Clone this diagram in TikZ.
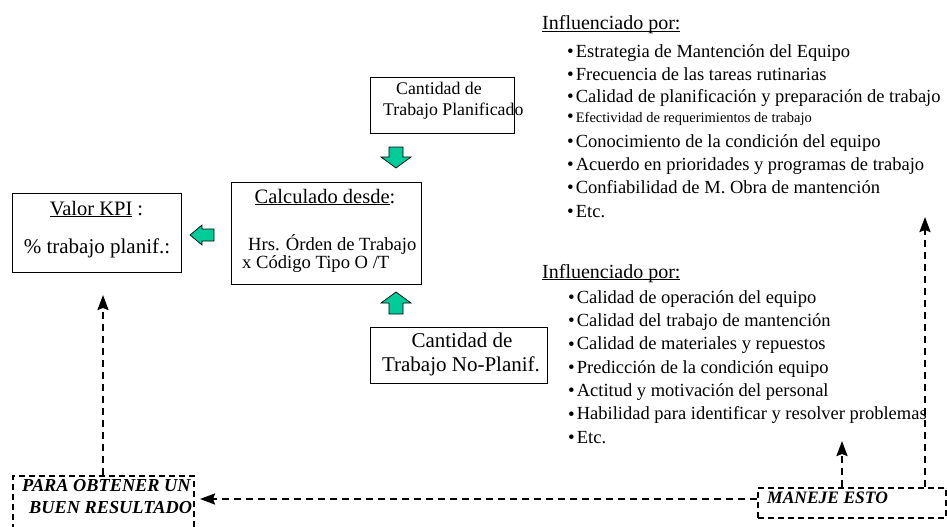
\documentclass[tikz,border=0pt]{standalone}
\usepackage{fontspec}
\setmainfont{Liberation Serif}
\usetikzlibrary{arrows.meta}
\definecolor{blockgreen}{RGB}{0,204,153}
\newcommand{\fsz}[1]{\fontsize{#1}{#1}\selectfont}
\newcommand{\ulx}[1]{\underline{\smash{#1}}}
\newcommand{\bul}{\raisebox{-0.5pt}{\fsz{19}\textbullet}\hspace{2pt}}

\begin{document}
\begin{tikzpicture}[x=1pt,y=-1pt,
  box/.style={draw=black, line width=1pt, inner sep=0pt, anchor=north west},
  dbox/.style={draw=black, line width=1.6pt, dash pattern=on 6pt off 4pt, inner sep=0pt, anchor=north west},
  lbl/.style={anchor=base, inner sep=0pt},
  lblw/.style={anchor=base west, inner sep=0pt},
  item/.style={anchor=base west, inner sep=0pt, font=\fsz{18.5}},
  dasharrow/.style={line width=2.2pt, dash pattern=on 7pt off 5pt,
    -{Stealth[length=15pt,width=11pt,inset=2pt]}},
  blockarrow/.style={fill=blockgreen, draw=black, line width=0.7pt, line join=miter}
]
\useasboundingbox (0,0) rectangle (947,527);

% boxes
\node[box, minimum width=169pt, minimum height=79pt] (valor) at (12,193) {};
\node[box, minimum width=190pt, minimum height=102pt] (calc) at (231,182) {};
\node[box, minimum width=144pt, minimum height=56pt] (plan) at (370,77) {};
\node[box, minimum width=177pt, minimum height=56pt] (noplan) at (370,327) {};
\node[dbox, minimum width=181pt, minimum height=60pt] (para) at (12,475) {};
\node[dbox, minimum width=188pt, minimum height=30pt] (maneje) at (757,487) {};

% box texts
\node[lbl] (valor1) at (96.5,215) {\fsz{20.5}\ulx{Valor KPI} :};
\node[lbl] (valor2) at (97,253) {\fsz{21}\% trabajo planif.:};

\node[lbl] (calc1) at (325,203) {\fsz{20.5}\ulx{Calculado desde}:};
\node[lblw] (calc2) at (248,250) {\fsz{18.6}Hrs. Órden de Trabajo};
\node[lblw] (calc3) at (242,268) {\fsz{18.6}x Código Tipo O /T};

\node[lblw] (plan1) at (396,94) {\fsz{17.8}Cantidad de};
\node[lblw] (plan2) at (383,115) {\fsz{17.8}Trabajo Planificado};

\node[lbl] (noplan1) at (462,347) {\fsz{21}Cantidad de};
\node[lbl] (noplan2) at (461,371) {\fsz{21}Trabajo No-Planif.};

\node[lblw] (para1) at (22,491.5) {\fsz{18.3}\bfseries\itshape PARA OBTENER UN};
\node[lblw] (para2) at (29,513) {\fsz{18.3}\bfseries\itshape BUEN RESULTADO};
\node[lblw] (maneje1) at (767,503) {\fsz{17.5}\bfseries\itshape MANEJE ESTO};

% influence lists
\node[lblw] (infA) at (542,30) {\fsz{20}\ulx{Influenciado por:}};
\node[item] (a1) at (567,57) {\bul Estrategia de Mantención del Equipo};
\node[item] (a2) at (567,80) {\bul Frecuencia de las tareas rutinarias};
\node[item] (a3) at (567,102) {\bul Calidad de planificación y preparación de trabajo};
\node[item] (a4) at (567,122) {\bul{\fsz{14.5}Efectividad de requerimientos de trabajo}};
\node[item] (a5) at (567,147) {\bul Conocimiento de la condición del equipo};
\node[item] (a6) at (567,170) {\bul Acuerdo en prioridades y programas de trabajo};
\node[item] (a7) at (567,193) {\bul Confiabilidad de M. Obra de mantención};
\node[item] (a8) at (567,217) {\bul Etc.};

\node[lblw] (infB) at (542,278) {\fsz{20}\ulx{Influenciado por:}};
\node[item] (b1) at (568,303) {\bul Calidad de operación del equipo};
\node[item] (b2) at (568,326.3) {\bul Calidad del trabajo de mantención};
\node[item] (b3) at (568,349.7) {\bul Calidad de materiales y repuestos};
\node[item] (b4) at (568,373) {\bul Predicción de la condición equipo};
\node[item] (b5) at (568,396.3) {\bul Actitud y motivación del personal};
\node[item] (b6) at (568,419.7) {\bul Habilidad para identificar y resolver problemas};
\node[item] (b7) at (568,443) {\bul Etc.};

% green block arrows
\draw[blockarrow] (389,147) -- (403,147) -- (403,157) -- (411,157) -- (396,168)
  -- (381,157) -- (389,157) -- cycle;
\draw[blockarrow] (389,314) -- (403,314) -- (403,303) -- (411,303) -- (396,292)
  -- (381,303) -- (389,303) -- cycle;
\draw[blockarrow] (214,229) -- (214,241) -- (202,241) -- (202,245) -- (190,235)
  -- (202,225) -- (202,229) -- cycle;

% dashed connectors
\coordinate (kpitip) at (103,295);
\coordinate (restip) at (200,499);
\coordinate (tipB) at (842,441);
\coordinate (tipA) at (925,217);
\draw[dasharrow] (kpitip |- para.north) -- (kpitip);
\draw[dasharrow] (restip -| maneje.west) -- (restip);
\draw[dasharrow] (tipB |- maneje.north) -- (tipB);
\draw[dasharrow] (tipA |- maneje.north) -- (tipA);
\end{tikzpicture}
\end{document}
